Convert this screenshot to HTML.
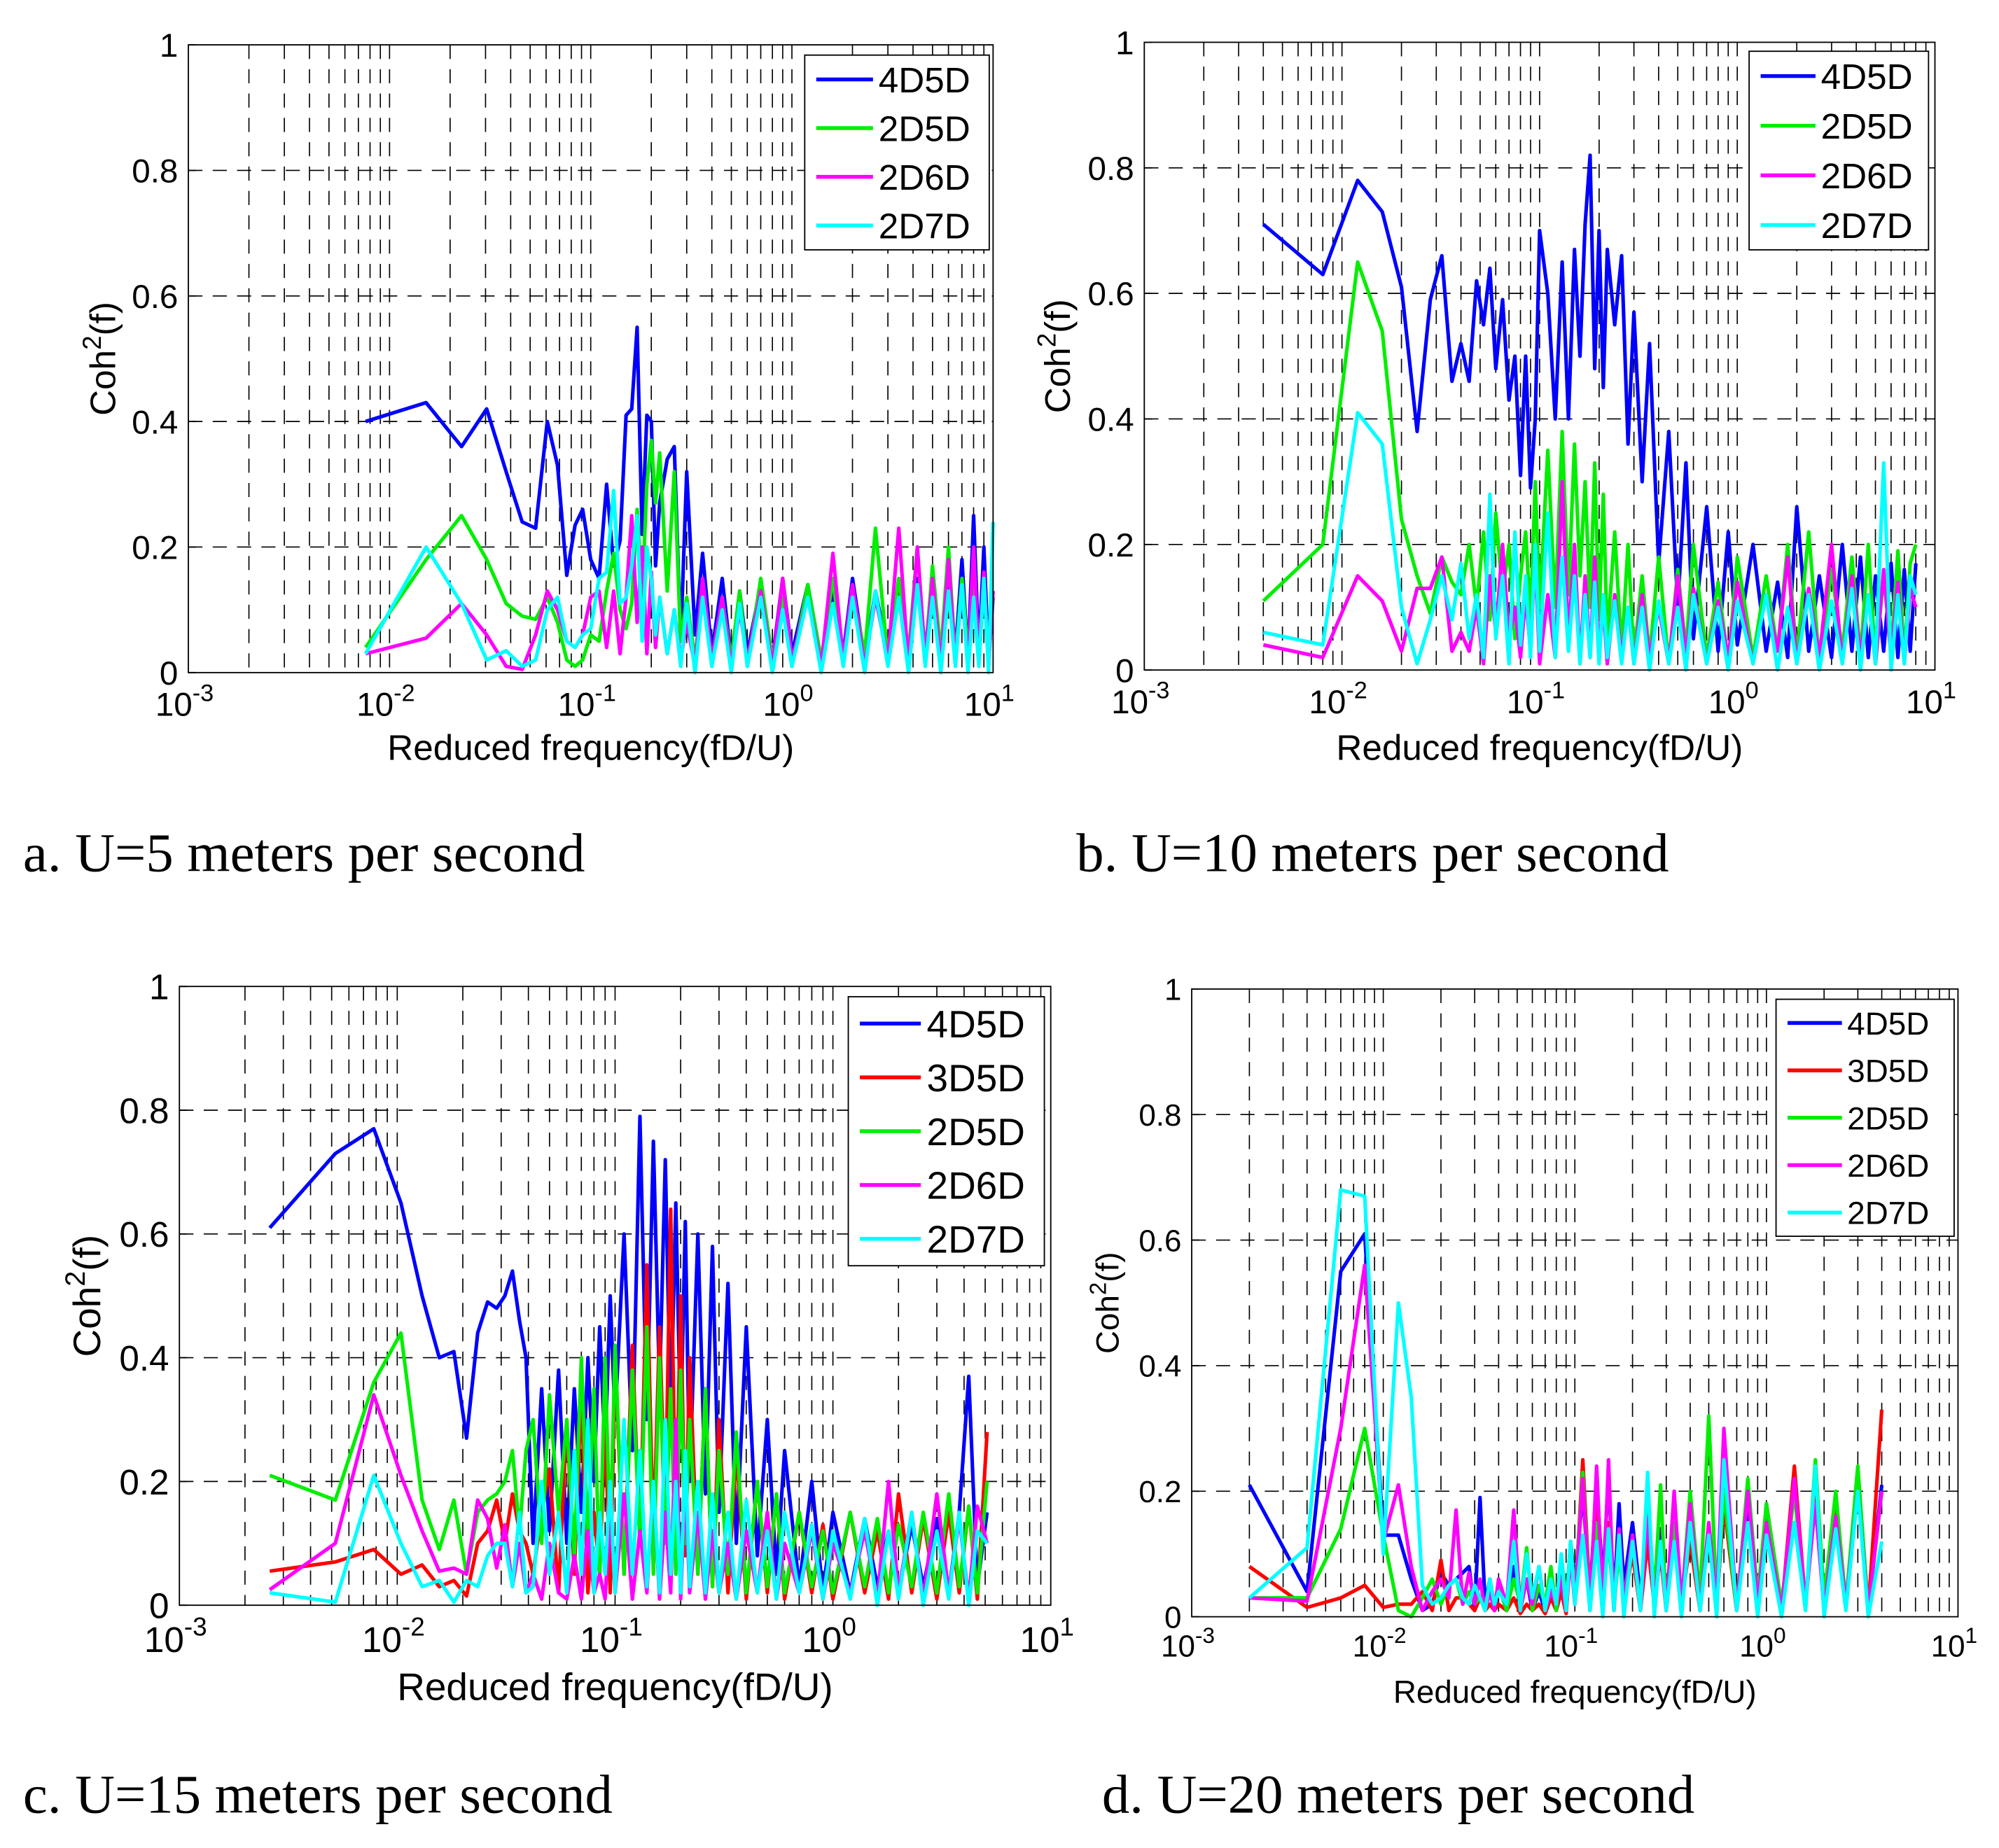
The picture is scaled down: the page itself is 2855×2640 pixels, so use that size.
<!DOCTYPE html>
<html><head><meta charset="utf-8"><style>
html,body{margin:0;padding:0;background:#fff}
svg{display:block}
text{font-family:"Liberation Sans",sans-serif;fill:#000}
.cap{font-family:"Liberation Serif",serif}
</style></head><body>
<svg id="fig" width="2855" height="2640" viewBox="0 0 1560 1442.5" xmlns="http://www.w3.org/2000/svg"></svg>
<script>
// ---- Panel a (U=5) ----
const freqA=[0.0076,0.0152,0.0228,0.0304,0.038,0.0456,0.0532,0.0608,0.0684,0.076,0.0836,0.0912,0.1,0.11,0.12,0.13,0.14,0.15,0.16,0.17,0.18,0.19,0.2,0.21,0.22,0.24,0.26,0.28,0.3,0.33,0.36,0.4,0.45,0.5,0.55,0.6,0.7,0.8,0.9,1.0,1.2,1.4,1.6,1.8,2.0,2.3,2.6,3.0,3.4,3.8,4.2,4.6,5.0,5.5,6,6.5,7,7.5,8,8.5,9,9.5,10];
const a4D5D=[0.40,0.43,0.36,0.42,0.32,0.24,0.23,0.40,0.33,0.155,0.235,0.26,0.18,0.15,0.30,0.17,0.21,0.41,0.42,0.55,0.22,0.41,0.40,0.17,0.27,0.34,0.36,0.05,0.32,0.06,0.19,0.03,0.15,0.02,0.13,0.03,0.14,0.02,0.15,0.03,0.14,0.02,0.13,0.03,0.15,0.02,0.13,0.03,0.14,0.02,0.15,0.03,0.16,0.02,0.14,0.03,0.18,0.02,0.25,0.03,0.2,0.02,0.12];
const a2D5D=[0.04,0.18,0.25,0.18,0.11,0.09,0.085,0.12,0.08,0.02,0.01,0.02,0.06,0.05,0.13,0.19,0.10,0.07,0.11,0.26,0.12,0.30,0.37,0.27,0.35,0.13,0.32,0.05,0.12,0.02,0.14,0.01,0.12,0.02,0.13,0.01,0.15,0.02,0.12,0.01,0.14,0.02,0.15,0.01,0.13,0.03,0.23,0.02,0.15,0.03,0.2,0.02,0.17,0.03,0.2,0.02,0.15,0.03,0.16,0.02,0.14,0.03,0.13];
const a2D6D=[0.03,0.055,0.11,0.06,0.01,0.005,0.06,0.13,0.1,0.05,0.04,0.06,0.12,0.13,0.04,0.13,0.03,0.12,0.25,0.08,0.2,0.03,0.16,0.04,0.12,0.03,0.1,0.02,0.08,0.01,0.15,0.02,0.12,0.01,0.1,0.02,0.13,0.01,0.15,0.02,0.12,0.01,0.19,0.02,0.14,0.01,0.12,0.02,0.23,0.01,0.2,0.02,0.15,0.01,0.18,0.02,0.13,0.01,0.2,0.02,0.16,0.01,0.13];
const a2D7D=[0.03,0.2,0.11,0.02,0.035,0.01,0.02,0.1,0.12,0.05,0.04,0.06,0.07,0.15,0.16,0.29,0.11,0.12,0.17,0.25,0.05,0.2,0.15,0.06,0.12,0.03,0.1,0.01,0.11,0.0,0.12,0.01,0.1,0.0,0.11,0.01,0.12,0.0,0.1,0.01,0.12,0.0,0.11,0.01,0.12,0.0,0.13,0.01,0.12,0.0,0.14,0.01,0.12,0.0,0.13,0.01,0.14,0.0,0.12,0.01,0.15,0.0,0.24];
// ---- Panel b (U=10) ----
const freqB=[0.004,0.008,0.012,0.016,0.02,0.024,0.028,0.032,0.036,0.04,0.044,0.048,0.052,0.056,0.06,0.065,0.07,0.075,0.08,0.085,0.09,0.095,0.1,0.11,0.12,0.13,0.14,0.15,0.16,0.17,0.18,0.19,0.2,0.21,0.22,0.24,0.26,0.28,0.3,0.33,0.36,0.4,0.45,0.5,0.55,0.6,0.7,0.8,0.9,1,1.2,1.4,1.6,1.8,2,2.3,2.6,3,3.4,3.8,4.2,4.6,5,5.5,6,6.5,7,7.5,8];
const b4D5D=[0.71,0.63,0.78,0.73,0.61,0.38,0.59,0.66,0.46,0.52,0.46,0.62,0.55,0.64,0.48,0.59,0.43,0.5,0.31,0.5,0.29,0.4,0.7,0.6,0.4,0.65,0.4,0.67,0.5,0.71,0.82,0.48,0.7,0.45,0.67,0.55,0.66,0.36,0.57,0.3,0.52,0.17,0.38,0.1,0.33,0.05,0.26,0.03,0.22,0.04,0.2,0.03,0.14,0.02,0.26,0.03,0.15,0.02,0.2,0.03,0.18,0.02,0.15,0.03,0.17,0.02,0.16,0.03,0.17];
const b2D5D=[0.11,0.2,0.65,0.54,0.24,0.15,0.09,0.18,0.14,0.12,0.2,0.1,0.22,0.08,0.25,0.12,0.2,0.05,0.15,0.22,0.08,0.3,0.1,0.35,0.1,0.38,0.12,0.36,0.15,0.3,0.1,0.33,0.08,0.28,0.05,0.22,0.03,0.2,0.02,0.15,0.02,0.18,0.01,0.16,0.03,0.2,0.02,0.14,0.01,0.18,0.02,0.15,0.03,0.2,0.02,0.22,0.01,0.16,0.03,0.18,0.02,0.2,0.01,0.15,0.03,0.19,0.02,0.17,0.2];
const b2D6D=[0.04,0.02,0.15,0.11,0.03,0.13,0.13,0.18,0.03,0.06,0.03,0.1,0.01,0.15,0.06,0.2,0.05,0.1,0.02,0.12,0.03,0.18,0.01,0.12,0.02,0.3,0.05,0.2,0.01,0.15,0.02,0.18,0.03,0.1,0.01,0.12,0.02,0.1,0.01,0.12,0.02,0.1,0.01,0.15,0.02,0.13,0.01,0.11,0.02,0.14,0.01,0.12,0.03,0.18,0.01,0.13,0.02,0.2,0.01,0.15,0.02,0.12,0.01,0.16,0.02,0.14,0.01,0.13,0.1];
const b2D7D=[0.06,0.04,0.41,0.36,0.1,0.01,0.08,0.15,0.08,0.17,0.05,0.12,0.02,0.28,0.05,0.15,0.01,0.22,0.04,0.15,0.02,0.2,0.03,0.25,0.02,0.18,0.03,0.15,0.01,0.12,0.02,0.14,0.01,0.12,0.02,0.11,0.01,0.1,0.01,0.1,0.0,0.11,0.01,0.1,0.0,0.12,0.01,0.1,0.0,0.11,0.01,0.12,0.0,0.1,0.01,0.12,0.0,0.11,0.01,0.13,0.0,0.12,0.01,0.33,0.0,0.12,0.01,0.15,0.12];
// ---- Panel c (U=15) ----
const freqC=[0.0026,0.0052,0.0078,0.0104,0.013,0.0156,0.0182,0.0208,0.0234,0.026,0.0286,0.0312,0.0338,0.0364,0.039,0.042,0.046,0.05,0.055,0.06,0.065,0.07,0.075,0.08,0.085,0.09,0.095,0.1,0.11,0.12,0.13,0.14,0.15,0.16,0.17,0.18,0.19,0.2,0.21,0.22,0.24,0.26,0.28,0.3,0.33,0.36,0.4,0.45,0.5,0.55,0.6,0.7,0.8,0.9,1,1.2,1.4,1.6,1.8,2,2.3,2.6,3,3.4,3.8,4.2,4.6,5.1];
const c4D5D=[0.61,0.73,0.77,0.65,0.5,0.4,0.41,0.27,0.44,0.49,0.48,0.5,0.54,0.46,0.4,0.1,0.35,0.12,0.38,0.1,0.35,0.15,0.4,0.2,0.45,0.25,0.5,0.3,0.6,0.25,0.79,0.3,0.75,0.35,0.72,0.3,0.65,0.28,0.62,0.2,0.6,0.18,0.58,0.15,0.52,0.1,0.45,0.08,0.3,0.05,0.25,0.03,0.2,0.02,0.15,0.02,0.14,0.03,0.12,0.02,0.13,0.03,0.14,0.02,0.15,0.37,0.03,0.15];
const c3D5D=[0.055,0.07,0.09,0.05,0.065,0.03,0.04,0.015,0.1,0.12,0.17,0.1,0.18,0.12,0.1,0.05,0.15,0.22,0.02,0.3,0.05,0.35,0.02,0.15,0.05,0.3,0.02,0.4,0.05,0.42,0.1,0.55,0.1,0.45,0.15,0.64,0.1,0.5,0.08,0.4,0.05,0.35,0.03,0.3,0.02,0.25,0.01,0.2,0.02,0.18,0.01,0.15,0.02,0.13,0.01,0.15,0.02,0.12,0.01,0.18,0.02,0.14,0.01,0.15,0.02,0.16,0.01,0.28];
const c2D5D=[0.21,0.17,0.36,0.44,0.17,0.09,0.17,0.05,0.15,0.17,0.18,0.2,0.25,0.12,0.25,0.3,0.1,0.34,0.15,0.3,0.08,0.4,0.1,0.35,0.05,0.4,0.1,0.42,0.05,0.38,0.1,0.45,0.05,0.4,0.1,0.35,0.05,0.38,0.1,0.3,0.05,0.35,0.03,0.25,0.05,0.28,0.02,0.2,0.03,0.18,0.02,0.15,0.03,0.12,0.02,0.15,0.03,0.14,0.02,0.13,0.03,0.15,0.02,0.18,0.03,0.16,0.02,0.2];
const c2D6D=[0.025,0.1,0.34,0.21,0.12,0.055,0.06,0.05,0.17,0.14,0.06,0.13,0.03,0.1,0.02,0.05,0.01,0.1,0.02,0.01,0.08,0.01,0.12,0.02,0.05,0.01,0.15,0.02,0.18,0.01,0.12,0.02,0.2,0.01,0.15,0.02,0.3,0.01,0.2,0.02,0.15,0.01,0.12,0.02,0.1,0.01,0.12,0.02,0.15,0.01,0.1,0.02,0.12,0.01,0.1,0.02,0.12,0.01,0.2,0.02,0.15,0.01,0.18,0.02,0.14,0.01,0.16,0.1];
const c2D7D=[0.02,0.005,0.21,0.1,0.03,0.04,0.005,0.04,0.03,0.08,0.1,0.1,0.03,0.15,0.02,0.03,0.2,0.05,0.15,0.02,0.25,0.05,0.3,0.02,0.15,0.05,0.2,0.02,0.3,0.05,0.25,0.03,0.2,0.02,0.3,0.05,0.2,0.02,0.25,0.03,0.2,0.02,0.18,0.02,0.15,0.01,0.17,0.02,0.12,0.01,0.15,0.02,0.13,0.01,0.12,0.01,0.14,0.0,0.12,0.01,0.15,0.0,0.12,0.01,0.15,0.0,0.12,0.1];
// ---- Panel d (U=20) ----
const freqD=[0.002,0.004,0.006,0.008,0.01,0.012,0.014,0.016,0.018,0.02,0.022,0.024,0.026,0.028,0.03,0.032,0.034,0.036,0.038,0.04,0.044,0.048,0.052,0.056,0.06,0.065,0.07,0.075,0.08,0.085,0.09,0.095,0.1,0.11,0.12,0.13,0.14,0.15,0.16,0.17,0.18,0.2,0.22,0.24,0.26,0.28,0.3,0.33,0.36,0.4,0.45,0.5,0.55,0.6,0.7,0.8,0.9,1,1.2,1.4,1.6,1.8,2,2.3,2.6,3,3.4,4];
const d4D5D=[0.21,0.04,0.55,0.61,0.13,0.13,0.06,0.01,0.02,0.07,0.05,0.06,0.07,0.08,0.01,0.19,0.02,0.06,0.01,0.05,0.01,0.08,0.02,0.06,0.01,0.04,0.01,0.05,0.02,0.08,0.01,0.12,0.05,0.2,0.03,0.22,0.05,0.23,0.02,0.18,0.05,0.15,0.03,0.12,0.02,0.14,0.01,0.13,0.02,0.15,0.01,0.14,0.02,0.18,0.01,0.16,0.02,0.18,0.01,0.15,0.02,0.2,0.01,0.16,0.02,0.23,0.01,0.21];
const d3D5D=[0.08,0.015,0.03,0.05,0.015,0.02,0.02,0.04,0.01,0.09,0.01,0.03,0.03,0.02,0.01,0.03,0.01,0.02,0.01,0.02,0.01,0.03,0.005,0.02,0.01,0.02,0.005,0.03,0.01,0.04,0.005,0.1,0.02,0.25,0.03,0.2,0.02,0.15,0.01,0.12,0.02,0.1,0.01,0.12,0.02,0.1,0.01,0.15,0.02,0.12,0.01,0.14,0.02,0.18,0.01,0.2,0.02,0.15,0.01,0.24,0.02,0.2,0.01,0.18,0.02,0.22,0.01,0.33];
const d2D5D=[0.03,0.03,0.14,0.3,0.13,0.01,0.0,0.03,0.06,0.02,0.05,0.06,0.02,0.04,0.02,0.03,0.01,0.06,0.02,0.05,0.01,0.06,0.02,0.11,0.01,0.05,0.02,0.08,0.01,0.1,0.02,0.12,0.03,0.23,0.02,0.15,0.03,0.12,0.02,0.1,0.03,0.12,0.02,0.2,0.03,0.21,0.01,0.15,0.02,0.2,0.03,0.32,0.02,0.2,0.01,0.22,0.03,0.18,0.02,0.2,0.01,0.25,0.03,0.2,0.02,0.24,0.01,0.2];
const d2D6D=[0.03,0.025,0.3,0.56,0.12,0.21,0.08,0.01,0.04,0.06,0.03,0.17,0.02,0.07,0.02,0.06,0.01,0.04,0.01,0.06,0.02,0.17,0.01,0.06,0.02,0.08,0.01,0.04,0.02,0.06,0.01,0.1,0.02,0.22,0.01,0.24,0.02,0.25,0.01,0.14,0.02,0.13,0.01,0.16,0.02,0.12,0.01,0.2,0.02,0.18,0.01,0.15,0.02,0.3,0.01,0.2,0.02,0.15,0.01,0.22,0.02,0.18,0.01,0.16,0.02,0.2,0.01,0.2];
const d2D7D=[0.03,0.11,0.68,0.67,0.1,0.5,0.35,0.05,0.02,0.03,0.05,0.06,0.03,0.02,0.05,0.03,0.01,0.06,0.02,0.04,0.02,0.12,0.01,0.1,0.03,0.08,0.01,0.06,0.02,0.1,0.01,0.12,0.02,0.13,0.01,0.12,0.0,0.14,0.01,0.13,0.0,0.12,0.01,0.23,0.0,0.12,0.01,0.12,0.0,0.15,0.01,0.13,0.0,0.25,0.01,0.15,0.0,0.13,0.0,0.15,0.01,0.24,0.0,0.14,0.01,0.2,0.0,0.12];
const yTicks=[0,0.2,0.4,0.6,0.8,1];
const yTickLabels=["0","0.2","0.4","0.6","0.8","1"];
const xDecades=[-3,-2,-1,0,1];

const NS="http://www.w3.org/2000/svg";
const svg=document.getElementById('fig');
const COL={"4D5D":"#0000ff","3D5D":"#ff0000","2D5D":"#00ee00","2D6D":"#ff00ff","2D7D":"#00ffff"};
function mk(tag,attrs,parent){const e=document.createElementNS(NS,tag);for(const k in attrs)e.setAttribute(k,attrs[k]);(parent||svg).appendChild(e);return e;}

function panel(P){
  const g=mk('g',{});
  
  
  const xs=v=>P.L+(Math.log10(v)+3)/4*(P.R-P.L);
  const ys=v=>P.B-v*(P.B-P.T);
  const grid=mk('g',{stroke:'#000','stroke-width':0.9,'stroke-dasharray':'11,8',fill:'none'},g);
  
  
  for(let d=-3;d<1;d++)for(let m=1;m<10;m++){const x=xs(m*Math.pow(10,d));if(d===-3&&m===1)continue;mk('line',{x1:x,x2:x,y1:P.T,y2:P.B},grid);}
  yTicks.forEach(t=>{if(t>0&&t<1)mk('line',{x1:P.L,x2:P.R,y1:ys(t),y2:ys(t)},grid);});
  P.series.forEach(s=>{
    let d='';const n=Math.min(P.freq.length,s.vals.length);
    for(let i=0;i<n;i++)d+=(i?'L':'M')+xs(P.freq[i]).toFixed(1)+','+ys(s.vals[i]).toFixed(1);
    const p=mk('path',{d:d,fill:'none',stroke:COL[s.name],'stroke-width':2.8,'stroke-linejoin':'round'},g);
    
    
  });
  const box=mk('rect',{x:P.L,y:P.T,width:P.R-P.L,height:P.B-P.T,fill:'none',stroke:'#000','stroke-width':1},g);
  
  
  const fs=P.fs;
  yTicks.forEach((t,i)=>{
    const tl=mk('text',{x:P.L-8,y:ys(t)+fs*0.36,'text-anchor':'end','font-size':fs},g);tl.textContent=yTickLabels[i];
    
    
    mk('line',{x1:P.L,x2:P.L+6,y1:ys(t),y2:ys(t),stroke:'#000'},g);
  });
  xDecades.forEach(e=>{
    const x=xs(Math.pow(10,e));
    const t=mk('text',{x:x-3,y:P.B+fs*1.3,'text-anchor':'middle','font-size':fs},g);
    
    
    t.appendChild(document.createTextNode('10'));
    const sp=mk('tspan',{dy:-fs*0.45,'font-size':fs*0.72},t);sp.textContent=String(e);
  });
  const xt=mk('text',{x:(P.L+P.R)/2,y:P.B+P.tdy,'text-anchor':'middle','font-size':P.tfs},g);
  xt.textContent='Reduced frequency(fD/U)';
  
  
  const yt=mk('text',{transform:`translate(${P.yx},${(P.T+P.B)/2}) rotate(-90)`,'text-anchor':'middle','font-size':P.tfs},g);
  
  
  yt.appendChild(document.createTextNode('Coh'));
  const s2=mk('tspan',{dy:-P.tfs*0.4,'font-size':P.tfs*0.72},yt);s2.textContent='2';
  const s3=mk('tspan',{dy:P.tfs*0.4},yt);s3.textContent='(f)';
  const lg=mk('g',{},g);
  
  
  mk('rect',{x:P.lx,y:P.ly,width:P.lw,height:P.lh,fill:'#fff',stroke:'#000','stroke-width':1},lg);
  P.series.forEach((s,i)=>{
    const y=P.ly+P.lh/P.series.length*(i+0.5);
    mk('line',{x1:P.lx+9,x2:P.lx+P.lw*0.37,y1:y,y2:y,stroke:COL[s.name],'stroke-width':3},lg);
    const t=mk('text',{x:P.lx+P.lw*0.4,y:y+P.lfs*0.36,'font-size':P.lfs},lg);t.textContent=s.name;
    
    
  });
  const c=mk('text',{x:P.cx,y:P.cy,'font-size':43,class:'cap'},g);
  c.textContent=P.cap;
  
  
}
panel({id:'panel-a',L:147,R:775,T:35,B:525,fs:26,tfs:28,tdy:68,yx:90,lx:628,ly:43,lw:144,lh:152,lfs:28,freq:freqA,cx:18,cy:680,cap:'a. U=5 meters per second',
  series:[{name:'4D5D',vals:a4D5D},{name:'2D5D',vals:a2D5D},{name:'2D6D',vals:a2D6D},{name:'2D7D',vals:a2D7D}]});
panel({id:'panel-b',L:893,R:1510,T:33,B:523,fs:26,tfs:28,tdy:70,yx:835,lx:1365,ly:40,lw:140,lh:155,lfs:28,freq:freqB,cx:840,cy:680,cap:'b. U=10 meters per second',
  series:[{name:'4D5D',vals:b4D5D},{name:'2D5D',vals:b2D5D},{name:'2D6D',vals:b2D6D},{name:'2D7D',vals:b2D7D}]});
panel({id:'panel-c',L:140,R:820,T:770,B:1253,fs:28,tfs:30,tdy:74,yx:78,lx:662,ly:778,lw:153,lh:210,lfs:30,freq:freqC,cx:18,cy:1415,cap:'c. U=15 meters per second',
  series:[{name:'4D5D',vals:c4D5D},{name:'3D5D',vals:c3D5D},{name:'2D5D',vals:c2D5D},{name:'2D6D',vals:c2D6D},{name:'2D7D',vals:c2D7D}]});
panel({id:'panel-d',L:930,R:1528,T:772,B:1262,fs:24,tfs:25,tdy:67,yx:873,lx:1386,ly:780,lw:139,lh:185,lfs:25,freq:freqD,cx:860,cy:1415,cap:'d. U=20 meters per second',
  series:[{name:'4D5D',vals:d4D5D},{name:'3D5D',vals:d3D5D},{name:'2D5D',vals:d2D5D},{name:'2D6D',vals:d2D6D},{name:'2D7D',vals:d2D7D}]});
</script>
</body></html>
